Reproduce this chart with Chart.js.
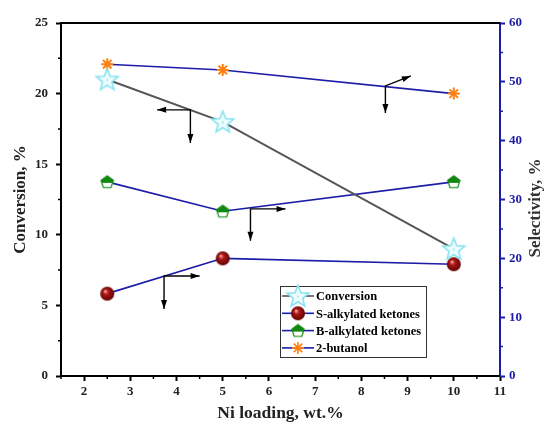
<!DOCTYPE html>
<html>
<head>
<meta charset="utf-8">
<script src="https://cdn.jsdelivr.net/npm/chart.js@4.4.1/dist/chart.umd.min.js"></script>
<style>
  html, body { margin: 0; padding: 0; background: #fff; }
  #wrap { width: 544px; height: 424px; }
</style>
</head>
<body>
<div id="wrap"><canvas id="niChart"></canvas></div>
<script>
const niLoading = [2.5, 5, 10];
const conversion = [21, 18, 9];
const sAlkylated = [14, 20, 19];
const bAlkylated = [33, 28, 33];
const butanol = [53, 52, 48];
const xTicks = [2, 3, 4, 5, 6, 7, 8, 9, 10, 11];

// arrows pointing to the axis each curve belongs to (data units)
const arrows = [
  { axis: 'y', x: 4.3, y: 18.85, toX: 3.58, downTo: 16.5 },
  { axis: 'y2', x: 3.73, y: 17.0, toX: 4.5, toY: 17.0, downTo: 11.4 },
  { axis: 'y2', x: 5.6, y: 28.4, toX: 6.36, toY: 28.4, downTo: 23.0 },
  { axis: 'y2', x: 8.52, y: 49.3, toX: 9.07, toY: 51.0, downTo: 44.7 }
];

const serif = '"Liberation Serif", "DejaVu Serif", serif';
const navy = '#1c1ca8';

function makeStar() {
  const c = document.createElement('canvas');
  c.width = 26; c.height = 26;
  const g = c.getContext('2d');
  g.beginPath();
  for (let i = 0; i < 10; i++) {
    const r = i % 2 === 0 ? 11.5 : 5;
    const a = -Math.PI / 2 + i * Math.PI / 5;
    g.lineTo(13 + r * Math.cos(a), 13.8 + r * Math.sin(a));
  }
  g.closePath();
  g.fillStyle = '#eefcff';
  g.fill();
  g.lineWidth = 1.6;
  g.strokeStyle = '#86e3ef';
  g.stroke();
  g.fillStyle = '#a8e8f0';
  g.fillRect(12, 12.5, 2, 2);
  return c;
}

function makeSphere() {
  const c = document.createElement('canvas');
  c.width = 16; c.height = 16;
  const g = c.getContext('2d');
  const grad = g.createRadialGradient(6, 5.5, 0.5, 8, 8, 7.5);
  grad.addColorStop(0, '#f4a0a0');
  grad.addColorStop(0.3, '#b01818');
  grad.addColorStop(1, '#5a0000');
  g.beginPath();
  g.arc(8, 8, 7, 0, Math.PI * 2);
  g.fillStyle = grad;
  g.fill();
  return c;
}

function makePentagon() {
  const c = document.createElement('canvas');
  c.width = 16; c.height = 16;
  const g = c.getContext('2d');
  const pts = [];
  for (let i = 0; i < 5; i++) {
    const a = -Math.PI / 2 + i * 2 * Math.PI / 5;
    pts.push([8 + 6.5 * Math.cos(a), 8.5 + 6.5 * Math.sin(a)]);
  }
  g.beginPath();
  pts.forEach(p => g.lineTo(p[0], p[1]));
  g.closePath();
  g.fillStyle = '#fff';
  g.fill();
  g.save();
  g.clip();
  g.fillStyle = '#118811';
  g.fillRect(0, 0, 16, 9);
  g.restore();
  g.lineWidth = 1.2;
  g.strokeStyle = '#118811';
  g.stroke();
  return c;
}

const starImg = makeStar();
const sphereImg = makeSphere();
const pentImg = makePentagon();

function pairs(ys) {
  return niLoading.map((x, i) => ({ x: x, y: ys[i] }));
}

const arrowPlugin = {
  id: 'arrows',
  afterDatasetsDraw(chart) {
    const g = chart.ctx;
    const xs = chart.scales.x;
    g.save();
    g.strokeStyle = '#000';
    g.fillStyle = '#000';
    g.lineWidth = 1.4;
    const head = (x0, y0, x1, y1) => {
      const a = Math.atan2(y1 - y0, x1 - x0);
      g.beginPath();
      g.moveTo(x1, y1);
      g.lineTo(x1 - 9 * Math.cos(a) + 3 * Math.sin(a), y1 - 9 * Math.sin(a) - 3 * Math.cos(a));
      g.lineTo(x1 - 9 * Math.cos(a) - 3 * Math.sin(a), y1 - 9 * Math.sin(a) + 3 * Math.cos(a));
      g.closePath();
      g.fill();
    };
    arrows.forEach(ar => {
      const ys = chart.scales[ar.axis];
      const cx = xs.getPixelForValue(ar.x), cy = ys.getPixelForValue(ar.y);
      const hx = xs.getPixelForValue(ar.toX);
      const hy = ys.getPixelForValue(ar.toY !== undefined ? ar.toY : ar.y);
      const dy = ys.getPixelForValue(ar.downTo);
      g.beginPath();
      g.moveTo(hx, hy); g.lineTo(cx, cy); g.lineTo(cx, dy);
      g.stroke();
      head(cx, cy, hx, hy);
      head(cx, cy, cx, dy);
    });
    g.restore();
  }
};

const framePlugin = {
  id: 'frame',
  afterDraw(chart) {
    const g = chart.ctx;
    const a = chart.chartArea;
    const xs = chart.scales.x, yl = chart.scales.y, yr = chart.scales.y2;
    g.save();
    // top border
    g.strokeStyle = '#000';
    g.lineWidth = 2;
    g.beginPath();
    g.moveTo(a.left - 1, a.top); g.lineTo(a.right, a.top);
    g.stroke();
    // minor ticks
    g.lineWidth = 1.5;
    g.beginPath();
    for (let v = 1.5; v <= 11; v += 1) {
      const px = xs.getPixelForValue(v);
      g.moveTo(px, a.bottom); g.lineTo(px, a.bottom + 3);
    }
    for (let v = 2.5; v < 25; v += 5) {
      const py = yl.getPixelForValue(v);
      g.moveTo(a.left, py); g.lineTo(a.left - 3, py);
    }
    g.stroke();
    g.strokeStyle = navy;
    g.beginPath();
    for (let v = 5; v < 60; v += 10) {
      const py = yr.getPixelForValue(v);
      g.moveTo(a.right, py); g.lineTo(a.right + 3, py);
    }
    g.stroke();
    // right title, reading bottom to top
    g.translate(536, 208);
    g.rotate(-Math.PI / 2);
    g.fillStyle = '#333';
    g.font = 'bold 17px ' + serif;
    g.textAlign = 'center';
    g.textBaseline = 'middle';
    g.fillText('Selectivity, %', 0, 0);
    g.restore();

    // legend box
    const lx = 280, ly = 286, lw = 146, lh = 71;
    g.save();
    g.fillStyle = '#fff';
    g.fillRect(lx, ly, lw, lh);
    g.strokeStyle = '#333';
    g.lineWidth = 1;
    g.strokeRect(lx + 0.5, ly + 0.5, lw, lh);
    g.font = 'bold 12.5px ' + serif;
    g.textBaseline = 'middle';
    chart.data.datasets.forEach((ds, i) => {
      const yy = ly + 10 + i * 17.3;
      g.strokeStyle = ds.borderColor;
      g.lineWidth = 1.6;
      g.beginPath();
      g.moveTo(lx + 2, yy); g.lineTo(lx + 34, yy);
      g.stroke();
      g.strokeStyle = ds.pointBorderColor || ds.borderColor;
      g.fillStyle = ds.pointBackgroundColor || '#fff';
      Chart.helpers.drawPoint(g, {
        pointStyle: ds.pointStyle, radius: ds.pointRadius, borderWidth: ds.pointBorderWidth || 1, rotation: 0
      }, lx + 18, yy);
      g.fillStyle = '#000';
      g.fillText(ds.label, lx + 36, yy + 1);
    });
    g.restore();
  }
};

new Chart(document.getElementById('niChart'), {
  type: 'line',
  data: {
    datasets: [
      {
        label: 'Conversion',
        data: pairs(conversion),
        yAxisID: 'y',
        borderColor: '#555555',
        borderWidth: 2,
        pointStyle: starImg,
        pointRadius: 11,
        order: 1
      },
      {
        label: 'S-alkylated ketones',
        data: pairs(sAlkylated),
        yAxisID: 'y2',
        borderColor: navy,
        borderWidth: 1.6,
        pointStyle: sphereImg,
        pointRadius: 7,
        order: 2
      },
      {
        label: 'B-alkylated ketones',
        data: pairs(bAlkylated),
        yAxisID: 'y2',
        borderColor: navy,
        borderWidth: 1.6,
        pointStyle: pentImg,
        pointRadius: 7,
        order: 3
      },
      {
        label: '2-butanol',
        data: pairs(butanol),
        yAxisID: 'y2',
        borderColor: navy,
        borderWidth: 1.6,
        pointStyle: 'star',
        pointRadius: 6,
        pointBorderWidth: 2,
        pointBorderColor: '#ff8010',
        pointBackgroundColor: '#ff8010',
        order: 4
      }
    ]
  },
  options: {
    responsive: true,
    maintainAspectRatio: false,
    animation: false,
    layout: { padding: { top: 23, left: 0, right: 0, bottom: 0 } },
    plugins: { legend: { display: false }, tooltip: { enabled: false } },
    scales: {
      x: {
        type: 'linear',
        min: 1.5,
        max: 11,
        afterBuildTicks: s => { s.ticks = xTicks.map(v => ({ value: v })); },
        afterFit: s => { s.height = 48; },
        grid: { drawOnChartArea: false, tickLength: 5, tickWidth: 2, tickColor: '#000' },
        border: { color: '#000', width: 2 },
        ticks: { color: '#222', padding: 3, font: { family: serif, size: 13, weight: 'bold' } },
        title: {
          display: true, text: 'Ni loading, wt.%', color: '#222', padding: { top: 6, bottom: 0 },
          font: { family: serif, size: 17.5, weight: 'bold' }
        }
      },
      y: {
        position: 'left',
        min: 0,
        max: 25,
        ticks: { stepSize: 5, color: '#222', padding: 8, font: { family: serif, size: 13, weight: 'bold' } },
        afterFit: s => { s.width = 61; },
        grid: { drawOnChartArea: false, tickLength: 5, tickWidth: 2, tickColor: '#000' },
        border: { color: '#000', width: 2 },
        title: {
          display: true, text: 'Conversion, %', color: '#222', padding: { top: 10, bottom: 0 },
          font: { family: serif, size: 17, weight: 'bold' }
        }
      },
      y2: {
        position: 'right',
        min: 0,
        max: 60,
        ticks: { stepSize: 10, color: navy, padding: 4, font: { family: serif, size: 13, weight: 'bold' } },
        afterFit: s => { s.width = 44; },
        grid: { drawOnChartArea: false, tickLength: 5, tickWidth: 2, tickColor: navy },
        border: { color: navy, width: 2 }
      }
    }
  },
  plugins: [arrowPlugin, framePlugin]
});
</script>
</body>
</html>
